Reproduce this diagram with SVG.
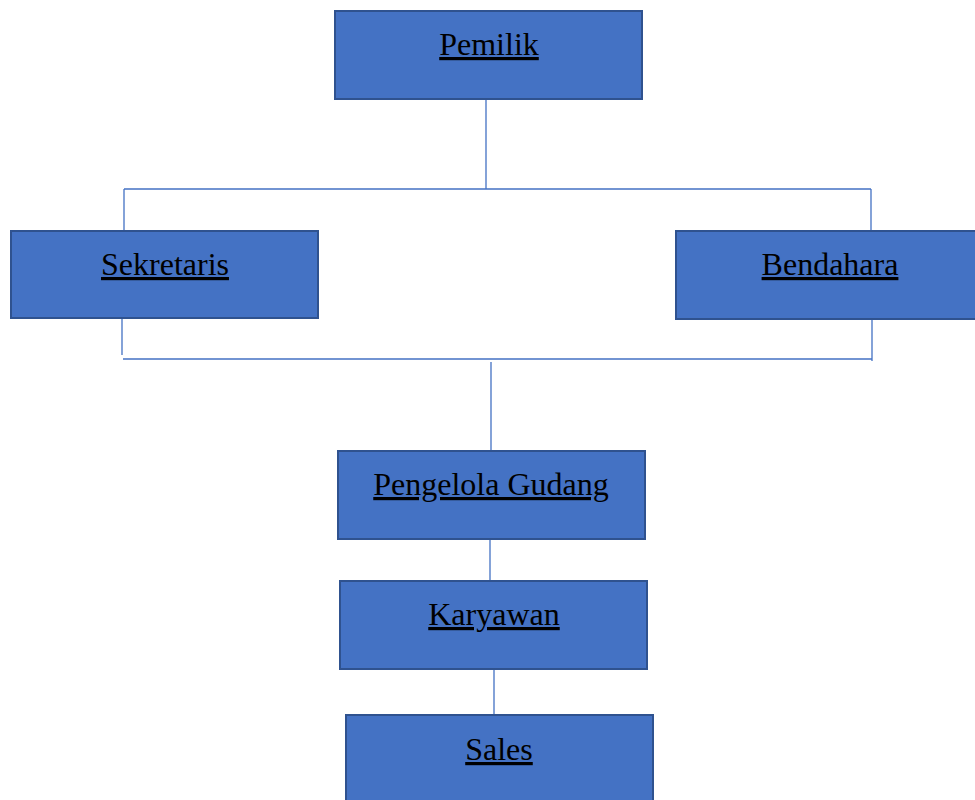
<svg xmlns="http://www.w3.org/2000/svg" width="975" height="800" viewBox="0 0 975 800">
<style>
.box{fill:#4472C4;stroke:#2F528F;stroke-width:2}
.lbl{font-family:"Liberation Serif","Times New Roman",serif;font-size:32px;fill:#000;text-anchor:middle;text-decoration:underline}
.ln{stroke:#4472C4;stroke-width:1.3;fill:none}
</style>
<rect width="975" height="800" fill="#fff"/>
<g id="connectors">
<path class="ln" d="M486 99 V189 M124 189 H871 M124 189 V231 M871 189 V231"/>
<path class="ln" d="M122 318 V355 M872 319 V361 M123 359 H872 M491 362 V451"/>
<path class="ln" d="M490 539 V581 M494 669 V715"/>
</g>
<g id="pemilik"><rect class="box" x="335" y="11" width="307" height="88"/><text class="lbl" x="489" y="55">Pemilik</text></g>
<g id="sekretaris"><rect class="box" x="11" y="231" width="307" height="87"/><text class="lbl" x="165" y="275">Sekretaris</text></g>
<g id="bendahara"><rect class="box" x="676" y="231" width="305" height="88"/><text class="lbl" x="830" y="275">Bendahara</text></g>
<g id="pengelola"><rect class="box" x="338" y="451" width="307" height="88"/><text class="lbl" x="491" y="495">Pengelola Gudang</text></g>
<g id="karyawan"><rect class="box" x="340" y="581" width="307" height="88"/><text class="lbl" x="494" y="625">Karyawan</text></g>
<g id="sales"><rect class="box" x="346" y="715" width="307" height="95"/><text class="lbl" x="499" y="760">Sales</text></g>
</svg>
